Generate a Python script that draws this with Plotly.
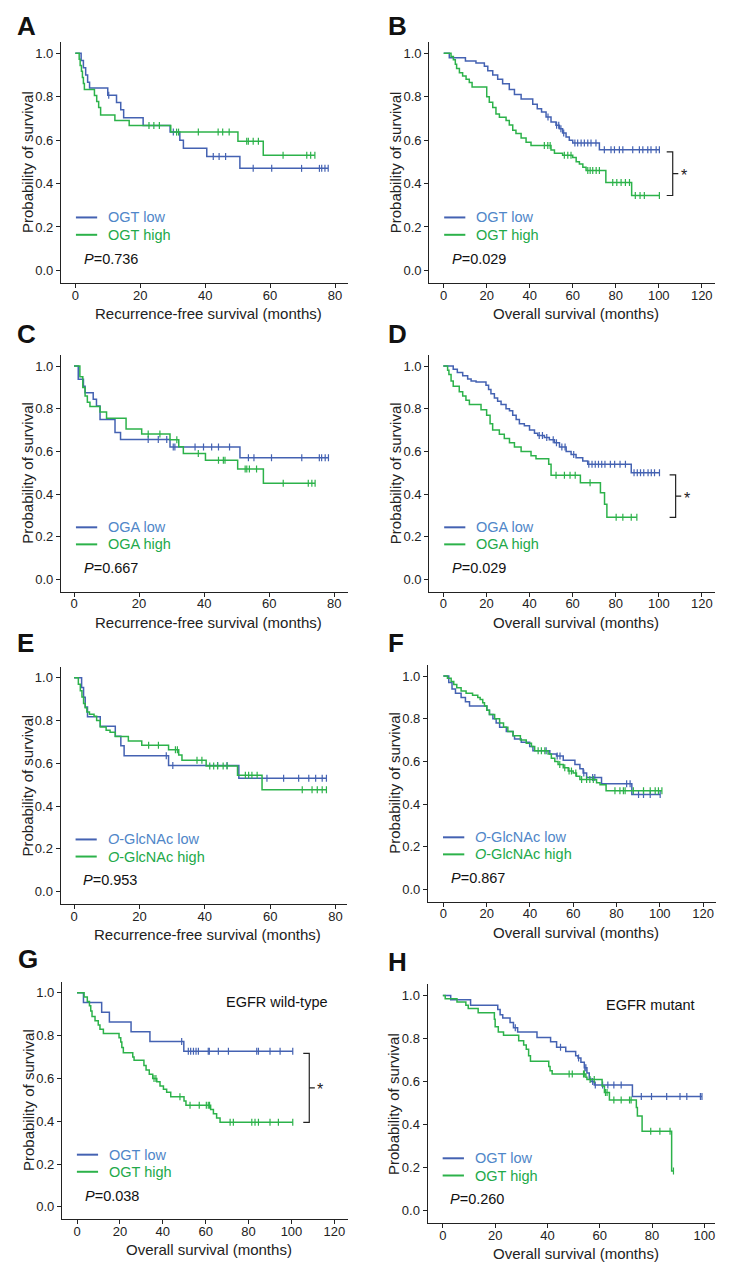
import numpy as np
import plotly.graph_objects as go

# ---------------- data (months, survival probability) ----------------
# Panel A: OGT, recurrence-free survival
A_low_t = [1.8, 2.5, 3.2, 3.8, 4.4, 10.0, 12.7, 14.0, 14.9, 20.9, 29.2, 32.2, 33.3, 40.5, 50.7]
A_low_s = [0.967, 0.933, 0.900, 0.867, 0.840, 0.807, 0.773, 0.740, 0.703, 0.667, 0.637, 0.600, 0.563, 0.525, 0.470]
A_low_c = [10.3, 30.2, 42.5, 44.3, 46.3, 54.8, 60.5, 69.7, 75.2, 75.9, 76.9, 77.9]
A_high_t = [1.2, 1.5, 1.9, 2.2, 2.5, 2.8, 5.9, 6.6, 7.2, 7.8, 12.2, 16.6, 29.4, 50.1, 57.9]
A_high_s = [0.972, 0.944, 0.917, 0.889, 0.861, 0.833, 0.806, 0.778, 0.750, 0.716, 0.691, 0.667, 0.637, 0.595, 0.530]
A_high_c = [22.7, 24.2, 25.9, 31.2, 31.8, 37.9, 44.0, 45.4, 47.4, 52.8, 53.3, 54.8, 56.4, 64.0, 71.3, 72.5, 73.8]

# Panel B: OGT, overall survival
B_low_t = [2.6, 10.1, 15.0, 18.9, 20.5, 22.8, 25.1, 27.4, 30.5, 32.9, 36.0, 41.4, 43.5, 45.5, 47.6, 49.9, 52.2, 53.8, 55.3, 56.9, 58.4, 60.0, 72.4]
B_low_s = [0.980, 0.965, 0.955, 0.940, 0.920, 0.900, 0.880, 0.860, 0.833, 0.810, 0.790, 0.765, 0.745, 0.730, 0.707, 0.684, 0.668, 0.653, 0.633, 0.614, 0.600, 0.587, 0.556]
B_low_c = [48.5, 52.5, 53.5, 54.5, 55.8, 61.0, 62.3, 63.9, 65.4, 67.0, 68.5, 70.8, 74.7, 77.8, 79.4, 81.7, 83.3, 87.9, 91.0, 92.6, 94.9, 96.4, 98.8, 100.3]
B_high_t = [3.4, 4.5, 5.4, 6.0, 7.3, 8.8, 10.4, 11.9, 13.2, 20.0, 21.2, 22.8, 24.3, 25.9, 29.0, 30.5, 32.1, 33.6, 36.0, 38.3, 40.6, 49.9, 51.5, 55.3, 60.0, 61.6, 63.1, 64.7, 66.2, 75.4, 87.4]
B_high_s = [0.985, 0.970, 0.950, 0.930, 0.910, 0.895, 0.880, 0.865, 0.845, 0.800, 0.775, 0.750, 0.720, 0.705, 0.690, 0.670, 0.645, 0.630, 0.610, 0.590, 0.575, 0.555, 0.540, 0.530, 0.520, 0.500, 0.490, 0.475, 0.460, 0.405, 0.345]
B_high_c = [46.8, 48.4, 49.5, 56.1, 57.7, 59.2, 67.0, 68.1, 69.3, 70.9, 72.4, 78.6, 80.5, 82.5, 84.5, 86.4, 89.1, 91.3, 93.3, 100.3]

# Panel C: OGA, recurrence-free survival
C_low_t = [1.3, 2.9, 3.4, 5.9, 6.9, 8.0, 12.6, 14.3, 29.5, 51.0]
C_low_s = [0.938, 0.906, 0.875, 0.844, 0.813, 0.750, 0.688, 0.656, 0.620, 0.570]
C_low_c = [22.8, 25.9, 28.5, 30.5, 31.0, 37.2, 39.8, 42.3, 44.4, 47.8, 53.6, 55.3, 60.7, 70.0, 75.4, 76.1, 77.2, 78.2]
C_high_t = [1.8, 2.7, 3.4, 4.1, 4.9, 8.0, 10.0, 16.0, 20.8, 29.5, 32.2, 33.6, 40.4, 50.3, 58.2]
C_high_s = [0.950, 0.900, 0.860, 0.830, 0.810, 0.785, 0.755, 0.705, 0.682, 0.655, 0.622, 0.590, 0.558, 0.517, 0.450]
C_high_c = [22.8, 26.4, 31.6, 38.2, 44.4, 45.9, 46.4, 52.6, 53.1, 53.9, 56.1, 64.3, 72.0, 73.1, 74.1]

# Panel D: OGA, overall survival
D_low_t = [4.6, 6.5, 9.0, 11.3, 12.9, 15.2, 19.8, 21.0, 22.1, 23.7, 25.2, 26.8, 29.1, 30.7, 32.2, 33.8, 35.3, 37.6, 40.0, 42.3, 43.8, 46.9, 49.2, 51.6, 53.9, 57.0, 59.3, 61.6, 64.7, 67.0, 87.2]
D_low_s = [0.985, 0.970, 0.955, 0.940, 0.930, 0.925, 0.910, 0.890, 0.870, 0.850, 0.835, 0.820, 0.800, 0.790, 0.770, 0.750, 0.730, 0.720, 0.700, 0.685, 0.675, 0.665, 0.655, 0.640, 0.620, 0.600, 0.585, 0.570, 0.555, 0.540, 0.500]
D_low_c = [44.5, 46.0, 48.0, 51.0, 52.5, 55.0, 56.5, 60.5, 67.5, 69.0, 70.5, 72.0, 73.5, 75.0, 77.5, 79.5, 82.0, 84.5, 88.5, 90.0, 91.5, 93.0, 95.0, 96.5, 98.0, 100.3]
D_high_t = [2.0, 2.6, 3.6, 4.6, 7.4, 9.0, 10.5, 12.1, 17.5, 20.1, 21.7, 22.9, 26.0, 28.3, 30.7, 33.0, 36.1, 40.7, 43.0, 48.9, 50.0, 63.6, 72.9, 74.8, 75.9]
D_high_s = [0.980, 0.960, 0.930, 0.905, 0.880, 0.860, 0.840, 0.820, 0.795, 0.770, 0.730, 0.700, 0.680, 0.660, 0.640, 0.620, 0.600, 0.580, 0.565, 0.540, 0.488, 0.453, 0.406, 0.352, 0.291]
D_high_c = [52.3, 56.2, 58.8, 61.2, 68.1, 80.2, 83.3, 87.2, 89.8]

# Panel E: O-GlcNAc, recurrence-free survival
E_low_t = [2.3, 2.9, 3.4, 4.1, 8.0, 12.6, 14.3, 15.3, 28.9, 50.4]
E_low_s = [0.955, 0.909, 0.864, 0.818, 0.773, 0.727, 0.682, 0.636, 0.590, 0.530]
E_low_c = [28.2, 30.2, 43.9, 46.8, 59.0, 64.1, 68.7, 71.8, 73.9, 75.9, 77.2]
E_high_t = [1.3, 1.9, 2.4, 2.9, 3.4, 3.9, 4.7, 6.1, 6.9, 8.0, 9.8, 11.0, 12.6, 16.6, 20.7, 28.9, 32.0, 33.0, 40.4, 50.0, 57.5]
E_high_s = [0.970, 0.940, 0.910, 0.880, 0.860, 0.840, 0.830, 0.820, 0.800, 0.770, 0.755, 0.745, 0.725, 0.705, 0.685, 0.664, 0.639, 0.614, 0.588, 0.544, 0.477]
E_high_c = [22.8, 25.8, 31.0, 31.6, 37.6, 39.1, 41.5, 42.7, 43.9, 45.6, 46.8, 52.4, 53.4, 54.4, 56.0, 69.8, 72.8, 74.4, 75.9, 77.2]

# Panel F: O-GlcNAc, overall survival
F_low_t = [2.5, 4.0, 5.6, 8.2, 10.2, 12.1, 20.1, 21.3, 22.9, 24.4, 26.0, 29.1, 32.2, 32.9, 36.0, 39.9, 41.4, 49.2, 52.3, 55.4, 60.8, 63.1, 64.6, 66.2, 73.1, 87.1]
F_low_s = [0.970, 0.940, 0.920, 0.900, 0.880, 0.860, 0.840, 0.820, 0.800, 0.780, 0.760, 0.740, 0.720, 0.705, 0.690, 0.670, 0.650, 0.635, 0.625, 0.605, 0.585, 0.565, 0.545, 0.525, 0.495, 0.445]
F_low_c = [47.5, 52.6, 53.9, 64.9, 69.0, 70.0, 84.7, 86.3, 90.2, 92.5, 95.6, 100.2]
F_high_t = [1.9, 3.6, 4.8, 6.2, 8.2, 10.5, 13.5, 15.9, 17.0, 18.2, 19.0, 20.1, 21.3, 23.7, 26.0, 27.8, 29.8, 32.2, 35.6, 38.3, 40.7, 42.2, 48.4, 49.9, 51.5, 53.0, 55.4, 57.7, 60.0, 61.5, 63.1, 70.8, 72.4, 75.2]
F_high_s = [0.990, 0.975, 0.960, 0.945, 0.930, 0.920, 0.910, 0.900, 0.890, 0.875, 0.860, 0.840, 0.820, 0.800, 0.780, 0.760, 0.740, 0.720, 0.700, 0.685, 0.670, 0.650, 0.635, 0.615, 0.600, 0.585, 0.570, 0.555, 0.545, 0.530, 0.515, 0.500, 0.490, 0.462]
F_high_c = [43.8, 45.3, 46.9, 53.8, 56.1, 58.1, 59.2, 61.2, 63.9, 66.2, 67.7, 69.3, 79.3, 81.6, 83.2, 84.0, 87.8, 92.5, 95.6, 97.9, 99.4, 101.0]

# Panel G: OGT, overall survival, EGFR wild-type
G_low_t = [3.0, 11.5, 15.1, 25.2, 34.0, 49.8]
G_low_s = [0.955, 0.909, 0.864, 0.818, 0.773, 0.727]
G_low_c = [48.8, 51.9, 53.0, 54.3, 55.5, 56.6, 61.2, 61.7, 65.9, 70.6, 83.8, 84.6, 90.0, 94.7, 100.6]
G_high_t = [3.3, 4.8, 5.8, 6.4, 7.0, 8.4, 9.9, 10.7, 12.3, 19.6, 20.4, 20.9, 21.6, 26.0, 26.6, 31.2, 32.2, 33.7, 35.3, 37.2, 38.7, 40.3, 41.8, 43.7, 49.9, 50.8, 62.3, 63.6, 65.1, 66.7]
G_high_s = [0.980, 0.960, 0.940, 0.915, 0.890, 0.870, 0.850, 0.830, 0.810, 0.790, 0.770, 0.745, 0.720, 0.700, 0.685, 0.660, 0.640, 0.620, 0.600, 0.585, 0.565, 0.550, 0.535, 0.515, 0.495, 0.475, 0.455, 0.435, 0.415, 0.395]
G_high_c = [35.9, 36.8, 48.0, 52.7, 57.0, 60.3, 61.2, 61.8, 71.4, 72.9, 81.5, 83.0, 84.6, 90.0, 93.9, 100.6]

# Panel H: OGT, overall survival, EGFR mutant
H_low_t = [3.0, 10.6, 21.0, 21.9, 22.9, 25.7, 27.0, 28.6, 36.0, 41.2, 43.5, 47.0, 50.8, 51.7, 52.8, 54.1, 55.1, 56.0, 56.6, 57.9, 72.5]
H_low_s = [0.980, 0.955, 0.935, 0.910, 0.895, 0.875, 0.850, 0.830, 0.805, 0.785, 0.760, 0.740, 0.720, 0.710, 0.690, 0.665, 0.640, 0.615, 0.600, 0.584, 0.531]
H_low_c = [27.7, 45.0, 51.9, 54.3, 54.7, 57.3, 58.3, 61.1, 63.1, 65.4, 68.2, 75.9, 79.8, 85.6, 90.7, 93.3, 98.5, 99.1]
H_high_t = [0.9, 5.4, 8.8, 9.7, 13.5, 19.7, 20.0, 21.2, 23.2, 29.0, 30.9, 31.9, 32.8, 33.5, 40.5, 41.0, 41.8, 54.7, 55.1, 60.9, 61.8, 63.7, 74.0, 74.4, 76.2, 87.5]
H_high_s = [0.985, 0.970, 0.955, 0.940, 0.920, 0.890, 0.855, 0.830, 0.815, 0.790, 0.770, 0.750, 0.720, 0.695, 0.670, 0.650, 0.635, 0.620, 0.610, 0.580, 0.550, 0.515, 0.480, 0.440, 0.370, 0.185]
H_high_c = [48.3, 49.5, 53.8, 54.1, 56.3, 57.9, 62.2, 62.8, 65.4, 68.2, 71.4, 72.0, 79.5, 83.0, 86.9, 88.2]

# Labels
Y_TICKS = [0.0, 0.2, 0.4, 0.6, 0.8, 1.0]
RFS_TITLE = "Recurrence-free survival (months)"
OS_TITLE = "Overall survival (months)"
Y_TITLE = "Probability of survival"
P_VALUES = ["0.736", "0.029", "0.667", "0.029", "0.953", "0.867", "0.038", "0.260"]

# ---------------- styling ----------------
W, H = 732, 1275
BLUE = "#4462B2"
GREEN = "#2CB24A"
BLUE_TXT = "#4F86C8"
GREEN_TXT = "#22A94A"
INK = "#222222"
FONT = "Arial, 'Liberation Sans', sans-serif"
YR = [-0.058, 1.052]

panels = [
    dict(letter="A", lpos=(15, 26), dom=(61, 348, 42, 283), xr=[-4.4, 84], xmax=80,
         xtitle=RFS_TITLE, labels=("OGT low", "OGT high"),
         low=(A_low_t, A_low_s, A_low_c), high=(A_high_t, A_high_s, A_high_c)),
    dict(letter="B", lpos=(386, 26), dom=(429.3, 715.3, 42, 283), xr=[-6.7, 126.3], xmax=120,
         xtitle=OS_TITLE, labels=("OGT low", "OGT high"), bracket=106.5,
         low=(B_low_t, B_low_s, B_low_c), high=(B_high_t, B_high_s, B_high_c)),
    dict(letter="C", lpos=(15, 334), dom=(61, 348.3, 355, 591.7), xr=[-4.0, 84.3], xmax=80,
         xtitle=RFS_TITLE, labels=("OGA low", "OGA high"),
         low=(C_low_t, C_low_s, C_low_c), high=(C_high_t, C_high_s, C_high_c)),
    dict(letter="D", lpos=(386.5, 334), dom=(429.3, 715.3, 355, 591.7), xr=[-6.5, 126.2], xmax=120,
         xtitle=OS_TITLE, labels=("OGA low", "OGA high"), bracket=107.8,
         low=(D_low_t, D_low_s, D_low_c), high=(D_high_t, D_high_s, D_high_c)),
    dict(letter="E", lpos=(15, 642.5), dom=(60.7, 346.7, 666.7, 904), xr=[-4.1, 83.4], xmax=80,
         xtitle=RFS_TITLE, labels=("<i>O</i>-GlcNAc low", "<i>O</i>-GlcNAc high"),
         low=(E_low_t, E_low_s, E_low_c), high=(E_high_t, E_high_s, E_high_c)),
    dict(letter="F", lpos=(386, 642.5), dom=(428, 716, 665, 901.7), xr=[-7.1, 126], xmax=120,
         xtitle=OS_TITLE, labels=("<i>O</i>-GlcNAc low", "<i>O</i>-GlcNAc high"),
         low=(F_low_t, F_low_s, F_low_c), high=(F_high_t, F_high_s, F_high_c)),
    dict(letter="G", lpos=(16, 959), dom=(62, 348.3, 981.7, 1219.3), xr=[-7.0, 126.5], xmax=120,
         xtitle=OS_TITLE, labels=("OGT low", "OGT high"), bracket=108.3, sub="EGFR wild-type",
         low=(G_low_t, G_low_s, G_low_c), high=(G_high_t, G_high_s, G_high_c)),
    dict(letter="H", lpos=(386, 962), dom=(427.7, 715.3, 984.3, 1223.3), xr=[-5.8, 104.2], xmax=100,
         xtitle=OS_TITLE, labels=("OGT low", "OGT high"), sub="EGFR mutant",
         low=(H_low_t, H_low_s, H_low_c), high=(H_high_t, H_high_s, H_high_c)),
]


def km_xy(t, s, c):
    t = np.asarray(t, float)
    s = np.asarray(s, float)
    end = max(t.max(), max(c) if len(c) else 0.0)
    x = np.concatenate([[0.0], t, [end]])
    y = np.concatenate([[1.0], s, [s[-1]]])
    return x, y


def surv_at(t, s, times):
    t = np.asarray(t, float)
    s = np.asarray(s, float)
    idx = np.searchsorted(t, np.asarray(times, float), side="right") - 1
    return np.where(idx >= 0, s[np.clip(idx, 0, None)], 1.0)


fig = go.Figure()
layout = dict(shapes=[], annotations=[])

for i, p in enumerate(panels, start=1):
    xa = "x" if i == 1 else f"x{i}"
    ya = "y" if i == 1 else f"y{i}"
    xd = f"{xa} domain"
    yd = f"{ya} domain"
    x0, x1, ytop, ybot = p["dom"]

    for grp, col in (("low", BLUE), ("high", GREEN)):
        t, s, c = p[grp]
        x, y = km_xy(t, s, c)
        fig.add_trace(go.Scatter(x=x, y=y, mode="lines", line=dict(color=col, width=1.5, shape="hv"),
                                 xaxis=xa, yaxis=ya, showlegend=False, hoverinfo="skip"))
        fig.add_trace(go.Scatter(x=c, y=surv_at(t, s, c), mode="markers",
                                 marker=dict(symbol="line-ns", size=5, color=col,
                                             line=dict(color=col, width=1.2)),
                                 xaxis=xa, yaxis=ya, showlegend=False, hoverinfo="skip"))

    axis_common = dict(showline=True, linecolor=INK, linewidth=1.3, ticks="outside", ticklen=4,
                       tickwidth=1.2, tickcolor=INK, showgrid=False, zeroline=False,
                       tickfont=dict(family=FONT, size=13, color=INK), fixedrange=True)
    layout["xaxis" if i == 1 else f"xaxis{i}"] = dict(
        domain=[x0 / W, x1 / W], range=p["xr"], anchor=ya, ticklabelstandoff=-4,
        tickvals=list(range(0, p["xmax"] + 1, 20)), **axis_common)
    layout["yaxis" if i == 1 else f"yaxis{i}"] = dict(
        domain=[1 - ybot / H, 1 - ytop / H], range=YR, anchor=xa, ticklabelstandoff=0,
        tickvals=Y_TICKS, tickformat=".1f", **axis_common)

    ann = layout["annotations"]
    # panel letter
    ann.append(dict(text=f"<b>{p['letter']}</b>", x=p["lpos"][0] / W, y=1 - p["lpos"][1] / H,
                    xref="paper", yref="paper", xanchor="left", yanchor="middle", showarrow=False,
                    font=dict(family=FONT, size=26, color="#111111")))
    # axis titles
    ann.append(dict(text=p["xtitle"], x=0.514, y=0, xref=xd, yref=yd, yshift=-30.5,
                    xanchor="center", yanchor="middle", showarrow=False,
                    font=dict(family=FONT, size=15, color=INK)))
    ann.append(dict(text=Y_TITLE, x=0, y=0.5, xref=xd, yref=yd, xshift=-33.5, textangle=-90,
                    xanchor="center", yanchor="middle", showarrow=False,
                    font=dict(family=FONT, size=15, color=INK)))
    # legend
    for k, (lab, lc, tc, ly) in enumerate(((p["labels"][0], BLUE, BLUE_TXT, 0.272),
                                           (p["labels"][1], GREEN, GREEN_TXT, 0.200))):
        layout["shapes"].append(dict(type="line", xref=xd, yref=yd, x0=0.052, x1=0.126, y0=ly, y1=ly,
                                     line=dict(color=lc, width=2)))
        ann.append(dict(text=lab, x=0.157, y=ly, xref=xd, yref=yd, xanchor="left", yanchor="middle",
                        showarrow=False, font=dict(family=FONT, size=14.5, color=tc)))
    # p value
    ann.append(dict(text=f"<i>P</i>={P_VALUES[i - 1]}", x=0.072, y=0.10, xref=xd, yref=yd,
                    xanchor="left", yanchor="middle", showarrow=False,
                    font=dict(family=FONT, size=14.5, color="#111111")))
    # subgroup label
    if "sub" in p:
        ann.append(dict(text=p["sub"], x=0.935, y=0.915, xref=xd, yref=yd, xanchor="right",
                        yanchor="middle", showarrow=False, font=dict(family=FONT, size=14.5, color="#111111")))
    # significance bracket
    if "bracket" in p:
        xb = p["bracket"]
        ytop_b = p["low"][1][-1] - 0.01
        ybot_b = p["high"][1][-1]
        ymid = (ytop_b + ybot_b) / 2
        path = (f"M {xb - 2.8} {ytop_b} L {xb} {ytop_b} L {xb} {ybot_b} L {xb - 2.8} {ybot_b} "
                f"M {xb} {ymid} L {xb + 2.6} {ymid}")
        layout["shapes"].append(dict(type="path", path=path, xref=xa, yref=ya,
                                     line=dict(color=INK, width=1.2)))
        ann.append(dict(text="*", x=xb + 5.2, y=ymid, xref=xa, yref=ya, xanchor="center",
                        yanchor="middle", yshift=-2, showarrow=False,
                        font=dict(family=FONT, size=16, color=INK)))

fig.update_layout(width=W, height=H, autosize=False, margin=dict(l=0, r=0, t=0, b=0),
                  paper_bgcolor="white", plot_bgcolor="white", showlegend=False,
                  font=dict(family=FONT, color=INK), **layout)

fig.write_html("out.html", config={"displayModeBar": False},
               post_script="document.body.style.margin='0';document.body.style.padding='0';")
